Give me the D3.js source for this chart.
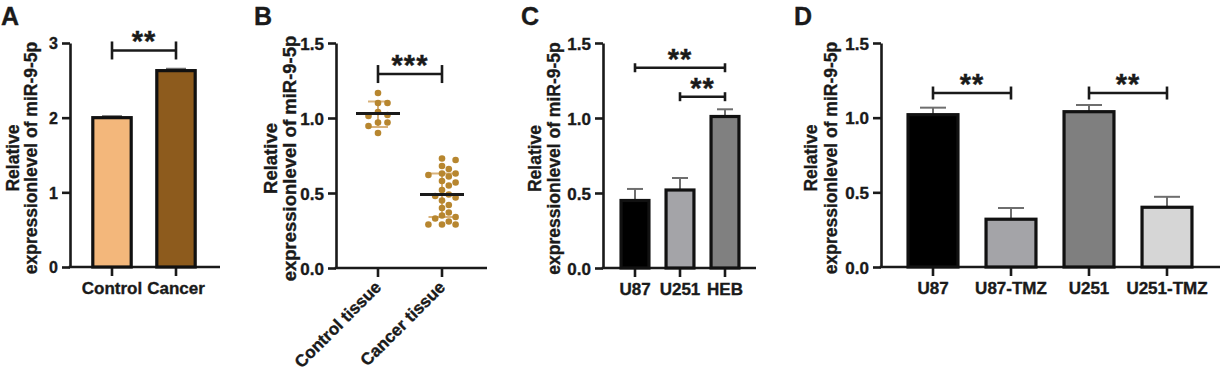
<!DOCTYPE html>
<html>
<head>
<meta charset="utf-8">
<script src="https://cdn.jsdelivr.net/npm/d3@7"></script>
<style>
body { margin: 0; background: #fff; }
text { font-family: Arial, "Liberation Sans", sans-serif; font-weight: bold; fill: #1a1a1a; stroke: #1a1a1a; stroke-width: 0.35px; }
</style>
</head>
<body>
<svg id="fig" width="1220" height="372"></svg>
<script>
// ---- panel A data
var aCats = ["Control", "Cancer"];
var aMeans = [2.0, 2.63];
var aErr = [2.02, 2.655];
var aTicks = [0, 1, 2, 3];

// ---- panel B data (individual samples)
var bCats = ["Control tissue", "Cancer tissue"];
var bControl = [1.167, 1.10, 1.10, 1.04, 1.02, 1.013, 0.97, 0.97, 0.947, 0.90];
var bCancer = [0.73, 0.72, 0.68, 0.66, 0.63, 0.63, 0.62, 0.61, 0.58, 0.57, 0.55, 0.52, 0.49,
               0.48, 0.47, 0.45, 0.42, 0.40, 0.37, 0.35, 0.34, 0.33, 0.31, 0.29, 0.29, 0.29];
var bMean = [1.03, 0.49];
var bSdLow = [0.94, 0.34];
var bSdHigh = [1.11, 0.63];
var bTicks = [0, 0.5, 1.0, 1.5];

// ---- panel C data
var cCats = ["U87", "U251", "HEB"];
var cMeans = [0.45, 0.52, 1.01];
var cErr = [0.527, 0.60, 1.058];
var cTicks = [0, 0.5, 1.0, 1.5];

// ---- panel D data
var dCats = ["U87", "U87-TMZ", "U251", "U251-TMZ"];
var dMeans = [1.02, 0.32, 1.04, 0.40];
var dErr = [1.067, 0.395, 1.085, 0.47];
var dTicks = [0, 0.5, 1.0, 1.5];

// significance brackets
var aSig = [["Control", "Cancer", 2.9, "**"]];
var bSig = [["Control tissue", "Cancer tissue", 1.293, "***"]];
var cSig = [["U87", "HEB", 1.335, "**"], ["U251", "HEB", 1.142, "**"]];
var dSig = [["U87", "U87-TMZ", 1.165, "**"], ["U251", "U251-TMZ", 1.165, "**"]];

var svg = d3.select("#fig");
var ink = "#1a1a1a";

// sets up the axes for one panel, returns the scales
function panel(o) {
    var g = svg.append("g");
    var n = o.cats.length;
    var x = d3.scaleBand().domain(o.cats)
        .range([o.c0 - o.step / 2, o.c0 - o.step / 2 + n * o.step])
        .paddingInner(o.pad).paddingOuter(o.pad / 2);
    var y = d3.scaleLinear().domain([0, o.max]).range([o.bottom, 43]);

    // y axis
    var ya = g.append("g")
        .attr("transform", "translate(" + o.ax + ",0)")
        .call(d3.axisLeft(y).tickValues(o.ticks).tickFormat(d3.format(o.fmt))
            .tickSize(8).tickSizeOuter(0).tickPadding(4));
    ya.select(".domain").attr("stroke", ink).attr("stroke-width", 2.6);
    ya.selectAll(".tick line").attr("stroke", ink).attr("stroke-width", 2.6);
    ya.selectAll(".tick text").attr("font-size", o.fs + "px").attr("dy", "0.36em")
        .style("font-family", "Arial, 'Liberation Sans', sans-serif").style("font-weight", "bold").attr("fill", ink);

    // x axis
    var xa = g.append("g")
        .attr("transform", "translate(0," + o.bottom + ")")
        .call(d3.axisBottom(x).tickSize(9).tickSizeOuter(0).tickPadding(6));
    xa.select(".domain").remove();
    xa.selectAll(".tick line").attr("stroke", ink).attr("stroke-width", 2.6);
    xa.selectAll(".tick text").attr("font-size", "17px")
        .style("font-family", "Arial, 'Liberation Sans', sans-serif").style("font-weight", "bold").attr("fill", ink);
    if (o.rot) {
        xa.selectAll(".tick text")
            .attr("text-anchor", "end")
            .attr("y", 0)
            .attr("dy", "0.35em")
            .attr("transform", "translate(0,16) rotate(-45)");
    }
    g.append("line")
        .attr("x1", o.ax - 1.3).attr("x2", o.axEnd)
        .attr("y1", o.bottom).attr("y2", o.bottom)
        .attr("stroke", ink).attr("stroke-width", 2.6);

    // axis title
    var mid = (o.bottom + 43) / 2 + 3;
    g.append("text")
        .attr("transform", "translate(" + (o.ax - o.t1) + "," + mid + ") rotate(-90)")
        .attr("text-anchor", "middle").attr("font-size", o.tfs + "px")
        .text("Relative");
    g.append("text")
        .attr("transform", "translate(" + (o.ax - o.t2) + "," + mid + ") rotate(-90)")
        .attr("text-anchor", "middle").attr("font-size", o.tfs + "px")
        .text("expressionlevel of miR-9-5p");

    // panel letter
    g.append("text").attr("x", o.lx).attr("y", 25).attr("font-size", "25px").text(o.letter);

    return { g: g, x: x, y: y };
}

function bars(p, cats, means, errs, colors, capW) {
    var x = p.x, y = p.y;
    var rows = cats.map(function(c, i) { return { c: c, m: means[i], e: errs[i], col: colors[i] }; });
    // error bars (upper only), drawn behind the bars
    p.g.selectAll(".eb").data(rows).enter().append("line")
        .attr("x1", function(d) { return x(d.c) + x.bandwidth() / 2; })
        .attr("x2", function(d) { return x(d.c) + x.bandwidth() / 2; })
        .attr("y1", function(d) { return y(d.m); })
        .attr("y2", function(d) { return y(d.e); })
        .attr("stroke", "#6e6e6e").attr("stroke-width", 2);
    p.g.selectAll(".cap").data(rows).enter().append("line")
        .attr("x1", function(d) { return x(d.c) + x.bandwidth() / 2 - capW / 2; })
        .attr("x2", function(d) { return x(d.c) + x.bandwidth() / 2 + capW / 2; })
        .attr("y1", function(d) { return y(d.e); })
        .attr("y2", function(d) { return y(d.e); })
        .attr("stroke", "#6e6e6e").attr("stroke-width", 2);
    p.g.selectAll(".bar").data(rows).enter().append("rect")
        .attr("x", function(d) { return x(d.c); })
        .attr("y", function(d) { return y(d.m); })
        .attr("width", x.bandwidth())
        .attr("height", function(d) { return y(0) - y(d.m); })
        .attr("fill", function(d) { return d.col; })
        .attr("stroke", "#111").attr("stroke-width", 3.2);
}

function brackets(p, list, endUp, endDown) {
    var x = p.x, y = p.y;
    list.forEach(function(s) {
        var x1 = x(s[0]) + x.bandwidth() / 2, x2 = x(s[1]) + x.bandwidth() / 2, yy = y(s[2]);
        p.g.append("line").attr("x1", x1).attr("x2", x2).attr("y1", yy).attr("y2", yy)
            .attr("stroke", ink).attr("stroke-width", 2.6);
        [x1, x2].forEach(function(xx) {
            p.g.append("line").attr("x1", xx).attr("x2", xx)
                .attr("y1", yy - endUp).attr("y2", yy + endDown)
                .attr("stroke", ink).attr("stroke-width", 2.6);
        });
        p.g.append("text").attr("x", (x1 + x2) / 2).attr("y", yy + 1)
            .attr("text-anchor", "middle").attr("font-size", "29px")
            .attr("letter-spacing", "1px")
            .text(s[3]);
    });
}

// ---------- A
var pA = panel({ cats: aCats, c0: 112, step: 64, pad: 0.4, max: 3, bottom: 267, ax: 70, axEnd: 220,
    ticks: aTicks, fmt: "d", fs: 16, tfs: 17.5, t1: 51, t2: 33, lx: 1, letter: "A" });
bars(pA, aCats, aMeans, aErr, ["#f3b77b", "#8d5b1d"], 20);
brackets(pA, aSig, 9, 9);

// ---------- B
var pB = panel({ cats: bCats, c0: 378, step: 64, pad: 0.4, max: 1.5, bottom: 268, ax: 336, axEnd: 487,
    ticks: bTicks, fmt: ".1f", fs: 17, tfs: 18.5, t1: 59, t2: 40, lx: 254, letter: "B", rot: true });
(function() {
    var x = pB.x, y = pB.y, r = 3.3;
    var groups = [bControl, bCancer];
    groups.forEach(function(vals, gi) {
        var cx = x(bCats[gi]) + x.bandwidth() / 2;
        var sdCap = gi === 0 ? 20 : 27;
        // SD line
        pB.g.append("line").attr("x1", cx).attr("x2", cx)
            .attr("y1", y(bSdLow[gi])).attr("y2", y(bSdHigh[gi]))
            .attr("stroke", "#d9b27a").attr("stroke-width", 2);
        [bSdLow[gi], bSdHigh[gi]].forEach(function(v) {
            pB.g.append("line").attr("x1", cx - sdCap / 2).attr("x2", cx + sdCap / 2)
                .attr("y1", y(v)).attr("y2", y(v))
                .attr("stroke", "#d9b27a").attr("stroke-width", 2);
        });
        // simple swarm: put each point at the first free horizontal slot
        var placed = [];
        var dx = gi === 0 ? 9.5 : 6.8;
        vals.slice().sort(d3.descending).forEach(function(v) {
            var py = y(v);
            var slots = [0, 1, -1, 2, -2, 3, -3];
            for (var k = 0; k < slots.length; k++) {
                var px = cx + slots[k] * dx;
                var ok = placed.every(function(q) {
                    return Math.hypot(q[0] - px, q[1] - py) >= 2 * r + 0.6;
                });
                if (ok) { placed.push([px, py]); break; }
            }
        });
        pB.g.selectAll(".pt" + gi).data(placed).enter().append("circle")
            .attr("cx", function(d) { return d[0]; })
            .attr("cy", function(d) { return d[1]; })
            .attr("r", r).attr("fill", "#b7862f");
        // mean line
        pB.g.append("line").attr("x1", cx - 22).attr("x2", cx + 22)
            .attr("y1", y(bMean[gi])).attr("y2", y(bMean[gi]))
            .attr("stroke", "#1a1a1a").attr("stroke-width", 3);
    });
})();
brackets(pB, bSig, 9, 9);

// ---------- C
var pC = panel({ cats: cCats, c0: 635, step: 45, pad: 0.38, max: 1.5, bottom: 268, ax: 603, axEnd: 756,
    ticks: cTicks, fmt: ".1f", fs: 17, tfs: 17.5, t1: 62, t2: 43, lx: 521, letter: "C" });
bars(pC, cCats, cMeans, cErr, ["#000000", "#a4a4a8", "#808080"], 16);
brackets(pC, cSig, 4.5, 4.5);

// ---------- D
var pD = panel({ cats: dCats, c0: 933, step: 78, pad: 0.36, max: 1.5, bottom: 267, ax: 881, axEnd: 1220,
    ticks: dTicks, fmt: ".1f", fs: 17, tfs: 17.5, t1: 64, t2: 44, lx: 794, letter: "D" });
bars(pD, dCats, dMeans, dErr, ["#000000", "#a4a4a8", "#7f7f7f", "#d6d6d6"], 26);
brackets(pD, dSig, 6.5, 6.5);
</script>
</body>
</html>
